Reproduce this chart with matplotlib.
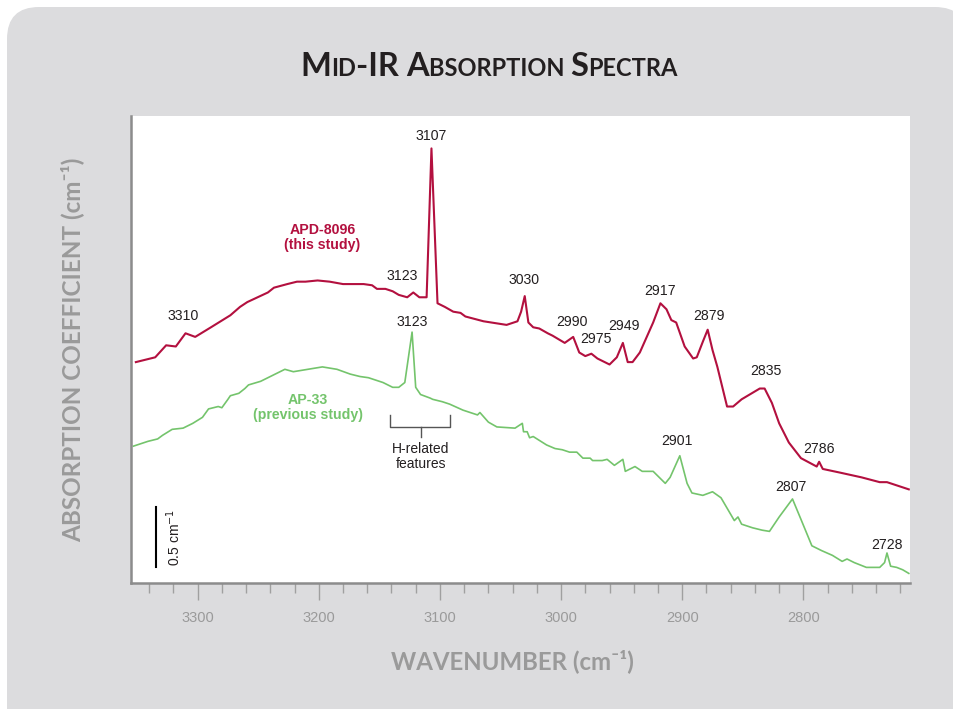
''' mid-ir absorption spectra of two samples (offset traces) '''
import matplotlib.pyplot as plt
from matplotlib.patches import FancyBboxPatch
from matplotlib.ticker import MultipleLocator

# red trace: APD-8096 (this study), wavenumber in cm-1 and absorption coefficient
red_wn = [3351, 3335, 3326, 3318, 3310, 3302, 3289, 3273, 3265, 3259, 3242, 3237,
          3226, 3218, 3211, 3201, 3191, 3180, 3163, 3156, 3152, 3145, 3139, 3134,
          3127, 3122, 3117, 3111, 3107, 3102, 3096, 3089, 3083, 3079, 3064, 3045,
          3036, 3033, 3030, 3027, 3023, 3018, 3011, 3007, 2997, 2990, 2985, 2980,
          2975, 2970, 2960, 2954, 2949, 2945, 2941, 2935, 2924, 2918, 2913, 2909,
          2905, 2898, 2891, 2888, 2883, 2879, 2875, 2871, 2863, 2858, 2851, 2836,
          2832, 2826, 2820, 2812, 2802, 2789, 2787, 2784, 2770, 2752, 2737, 2731,
          2713]
red_abs = [1.84, 1.88, 1.98, 1.97, 2.08, 2.05, 2.13, 2.23, 2.30, 2.34, 2.42, 2.46,
           2.49, 2.51, 2.51, 2.52, 2.51, 2.49, 2.49, 2.48, 2.45, 2.45, 2.43, 2.40,
           2.38, 2.42, 2.38, 2.38, 3.62, 2.33, 2.30, 2.26, 2.25, 2.22, 2.18, 2.15,
           2.18, 2.26, 2.39, 2.17, 2.13, 2.12, 2.08, 2.06, 2.00, 2.05, 1.92, 1.89,
           1.91, 1.87, 1.82, 1.88, 2.00, 1.84, 1.84, 1.92, 2.17, 2.33, 2.28, 2.19,
           2.17, 1.97, 1.87, 1.88, 2.01, 2.11, 1.94, 1.80, 1.47, 1.47, 1.53, 1.62,
           1.62, 1.50, 1.33, 1.17, 1.04, 0.97, 1.01, 0.95, 0.92, 0.88, 0.84, 0.84,
           0.78]

# green trace: AP-33 (previous study)
green_wn = [3353, 3341, 3333, 3329, 3321, 3312, 3304, 3296, 3291, 3283, 3280, 3275,
            3273, 3266, 3261, 3258, 3248, 3242, 3234, 3228, 3221, 3209, 3197, 3185,
            3174, 3166, 3159, 3147, 3139, 3134, 3129, 3123, 3120, 3116, 3108, 3106,
            3098, 3092, 3081, 3069, 3067, 3060, 3053, 3038, 3032, 3031, 3028, 3026,
            3023, 3012, 3005, 2999, 2993, 2987, 2982, 2976, 2974, 2966, 2962, 2956,
            2949, 2947, 2939, 2933, 2924, 2914, 2910, 2902, 2896, 2892, 2883, 2875,
            2868, 2857, 2854, 2851, 2842, 2834, 2828, 2820, 2809, 2802, 2793, 2785,
            2776, 2768, 2764, 2758, 2748, 2737, 2733, 2731, 2728, 2723, 2718, 2713]
green_abs = [1.14, 1.18, 1.20, 1.23, 1.28, 1.29, 1.33, 1.38, 1.45, 1.47, 1.46, 1.53,
             1.56, 1.58, 1.62, 1.65, 1.68, 1.71, 1.75, 1.78, 1.76, 1.78, 1.80, 1.78,
             1.74, 1.72, 1.71, 1.67, 1.63, 1.63, 1.67, 2.09, 1.63, 1.57, 1.54, 1.53,
             1.51, 1.49, 1.44, 1.40, 1.42, 1.34, 1.30, 1.29, 1.33, 1.26, 1.26, 1.21,
             1.22, 1.15, 1.12, 1.11, 1.09, 1.09, 1.04, 1.04, 1.02, 1.02, 1.03, 0.98,
             1.03, 0.93, 0.97, 0.93, 0.93, 0.83, 0.88, 1.06, 0.83, 0.75, 0.73, 0.76,
             0.71, 0.52, 0.55, 0.49, 0.46, 0.44, 0.43, 0.55, 0.70, 0.53, 0.31, 0.27,
             0.23, 0.18, 0.20, 0.17, 0.13, 0.13, 0.17, 0.25, 0.14, 0.13, 0.11, 0.08]

# peak labels (text, wavenumber, height of label)
peak_text = ['3107', '3123', '3310', '3030', '2990', '2975', '2949', '2917', '2879',
             '2835', '2786', '3123', '2901', '2807', '2728']
peak_wn = [3107, 3131, 3312, 3031, 2991, 2971, 2948, 2918, 2878, 2831, 2787, 3123,
           2904, 2810, 2731]
peak_y = [3.72, 2.56, 2.22, 2.52, 2.17, 2.03, 2.14, 2.43, 2.22, 1.77, 1.12, 2.17,
          1.18, 0.80, 0.32]

red = '#b3103f'
green = '#74c46c'
dark = '#231f20'

fig = plt.figure(figsize=(9.54, 7.09), dpi=100)
fig.patch.set_facecolor('white')

# grey rounded panel behind everything
panel = FancyBboxPatch((0.07, -0.6), 9.6, 7.62, boxstyle='round,pad=0,rounding_size=0.32',
                       transform=fig.dpi_scale_trans, facecolor='#dcdcde', edgecolor='none',
                       zorder=-5)
fig.patches.append(panel)

ax = fig.add_axes([131 / 954, 126 / 709, 779 / 954, 467 / 709])
ax.set_zorder(2)
ax.set_facecolor('white')
ax.plot(red_wn, red_abs, color=red, lw=1.5)
ax.plot(green_wn, green_abs, color=green, lw=1.2)
ax.set_xlim(3355, 2712)
ax.set_ylim(0, 3.89)

for s in ['top', 'right']:
    ax.spines[s].set_visible(False)
for s in ['left', 'bottom']:
    ax.spines[s].set_color('#8c8c8c')
    ax.spines[s].set_linewidth(1.8)
ax.set_yticks([])
ax.xaxis.set_major_locator(MultipleLocator(100))
ax.xaxis.set_minor_locator(MultipleLocator(20))
ax.tick_params(axis='x', which='major', direction='out', length=12, width=1,
               color='#a0a0a0', labelcolor='#9a9a9a', labelsize=10.5, pad=8)
ax.tick_params(axis='x', which='minor', direction='out', length=7, width=1, color='#a0a0a0')
for lab in ax.get_xticklabels():
    lab.set_fontfamily('Liberation Sans')

# peak labels
for t, w, y in zip(peak_text, peak_wn, peak_y):
    ax.text(w, y, t, ha='center', va='center', fontsize=10.2, color=dark,
            family='Liberation Sans')

# series labels
ax.text(3197, 2.88, 'APD-8096\n(this study)', ha='center', va='center', fontsize=10.2,
        color=red, weight='bold', family='Liberation Sans', linespacing=1.05)
ax.text(3209, 1.46, 'AP-33\n(previous study)', ha='center', va='center', fontsize=10.2,
        color=green, weight='bold', family='Liberation Sans', linespacing=1.05)

# bracket for H-related features
ax.plot([3141, 3141, 3092, 3092], [1.40, 1.30, 1.30, 1.40], color='#555555', lw=1)
ax.plot([3116, 3116], [1.30, 1.22], color='#555555', lw=1)
ax.text(3116, 1.05, 'H-related\nfeatures', ha='center', va='center', fontsize=10,
        color=dark, family='Liberation Sans', linespacing=1.1)

# scale bar
ax.plot([3334, 3334], [0.133, 0.633], color='black', lw=1.5)
ax.text(3320, 0.38, '0.5 cm$^{-1}$', rotation=90, ha='center', va='center', fontsize=10,
        color=dark, family='Liberation Sans')

# axis labels
lab_font = ['Lato', 'DejaVu Sans']
fig.text(72 / 954, 1 - 350 / 709, 'ABSORPTION COEFFICIENT (cm⁻¹)', rotation=90,
         ha='center', va='center', fontsize=17.5, color='#9a9a9a', weight='bold',
         family=lab_font)
fig.text(512 / 954, 1 - 661 / 709, 'WAVENUMBER (cm⁻¹)', ha='center', va='center',
         fontsize=17.3, color='#9a9a9a', weight='bold', family=lab_font)

# title in small caps, built piece by piece
title_parts = [('M', 23.5), ('ID', 17), ('-IR ', 23.5), ('A', 23.5), ('BSORPTION ', 17),
               ('S', 23.5), ('PECTRA', 17)]
renderer = fig.canvas.get_renderer()
pieces = []
for txt, size in title_parts:
    p = fig.text(0, 1 - 76 / 709, txt, fontsize=size, weight='bold', color=dark,
                 family=lab_font, va='baseline', ha='left')
    pieces.append(p)
widths = [p.get_window_extent(renderer).width for p in pieces]
x = 489 - sum(widths) / 2
for p, w in zip(pieces, widths):
    p.set_x(x / 954)
    x += w

fig.savefig('out.png', dpi=100)
